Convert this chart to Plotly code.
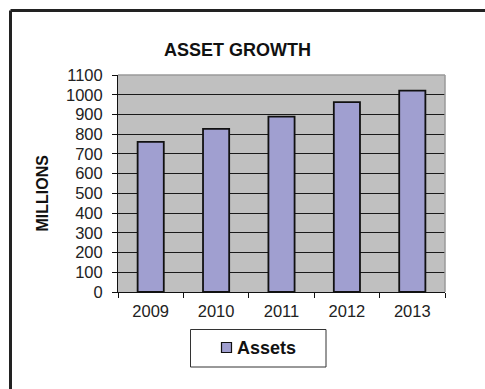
import plotly.graph_objects as go

years = ["2009", "2010", "2011", "2012", "2013"]
assets = [761, 827, 889, 962, 1021]
y_ticks = list(range(0, 1101, 100))
series_name = "Assets"
bar_color = "#a09fd0"

W, H = 485, 389
L, R, T, B = 118, 40, 75, 97
pw, ph = W - L - R, H - T - B

def px(x):
    return (x - L) / pw

def py(y):
    return (H - B - y) / ph

fig = go.Figure()
fig.add_trace(go.Bar(
    x=years, y=assets, name=series_name,
    marker=dict(color=bar_color, line=dict(color="#111111", width=1.8)),
    width=0.4, showlegend=False,
))

fig.update_layout(
    width=W, height=H,
    margin=dict(l=L, r=R, t=T, b=B),
    paper_bgcolor="white",
    plot_bgcolor="#c0c0c0",
    font=dict(family="Liberation Sans, Arial", size=16, color="#222222"),
    showlegend=False,
)

fig.update_xaxes(
    type="category", showline=True, linecolor="#111111", linewidth=1,
    ticks="outside", tickson="boundaries", ticklen=5, tickcolor="#111111",
    showgrid=False, tickfont=dict(size=16.5, color="#222222"),
    ticklabelstandoff=4,
)
fig.update_yaxes(
    range=[0, 1100], tickvals=y_ticks, showline=True, linecolor="#111111", linewidth=1,
    ticks="outside", ticklen=5, tickcolor="#111111",
    showgrid=True, gridcolor="#1a1a1a", gridwidth=1, zeroline=False,
    tickfont=dict(size=16.5, color="#222222"),
    ticklabelstandoff=6,
)

shapes = [
    # plot area top/right border
    dict(type="line", xref="paper", yref="paper", x0=0, x1=1, y0=1, y1=1,
         line=dict(color="#9a9a9a", width=1.5)),
    dict(type="line", xref="paper", yref="paper", x0=1, x1=1, y0=0, y1=1,
         line=dict(color="#9a9a9a", width=1.5)),
    # outer chart frame (top and left edges visible)
    dict(type="line", xref="paper", yref="paper", x0=px(10.5), x1=px(500),
         y0=py(10.5), y1=py(10.5), line=dict(color="#222222", width=3)),
    dict(type="line", xref="paper", yref="paper", x0=px(10.5), x1=px(10.5),
         y0=py(10.5), y1=py(400), line=dict(color="#222222", width=3)),
    # legend box
    dict(type="rect", xref="paper", yref="paper", x0=px(190.5), x1=px(326),
         y0=py(329.5), y1=py(367), line=dict(color="#333333", width=1)),
    # legend swatch
    dict(type="rect", xref="paper", yref="paper", x0=px(221.5), x1=px(231.5),
         y0=py(342.5), y1=py(352.5), fillcolor=bar_color,
         line=dict(color="#111111", width=1.2)),
]
fig.update_layout(shapes=shapes)

fig.add_annotation(
    text="<b>" + series_name + "</b>", xref="paper", yref="paper",
    x=px(235), y=py(348), xanchor="left", yanchor="middle",
    showarrow=False, font=dict(size=18, color="#111111"),
)
fig.add_annotation(
    text="<b>ASSET GROWTH</b>", xref="paper", yref="paper",
    x=px(237.5), y=py(50), xanchor="center", yanchor="middle",
    showarrow=False, font=dict(size=18, color="#111111"),
)
fig.add_annotation(
    text="<b>MILLIONS</b>", xref="paper", yref="paper",
    x=px(41.5), y=py(193), xanchor="center", yanchor="middle",
    showarrow=False, textangle=-90, font=dict(size=16, color="#111111"),
)

fig.write_html("out.html")
